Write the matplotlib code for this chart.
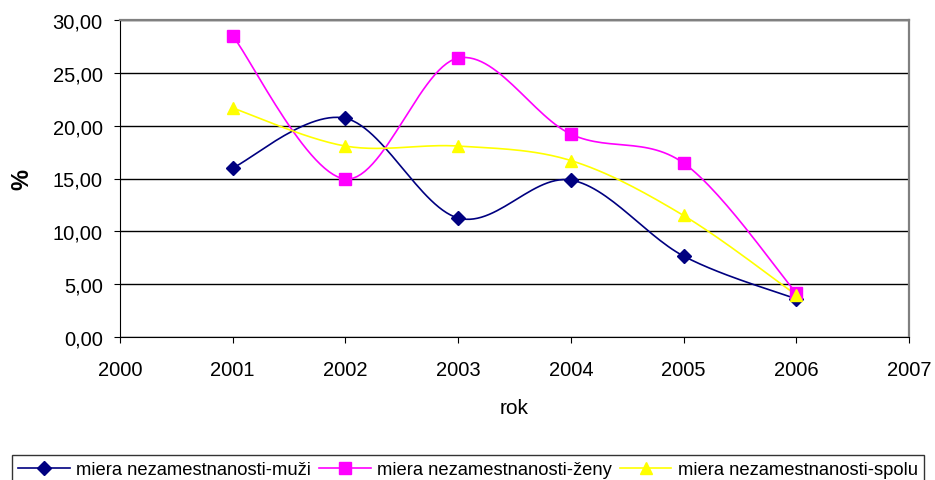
import matplotlib.pyplot as plt
import numpy as np
from matplotlib.ticker import FuncFormatter

plt.rcParams['font.family'] = ['Liberation Sans', 'DejaVu Sans']

years = [2001, 2002, 2003, 2004, 2005, 2006]
muzi = [16.00, 20.70, 11.26, 14.85, 7.66, 3.60]
zeny = [28.50, 14.95, 26.40, 19.20, 16.46, 4.16]
spolu = [21.67, 18.07, 18.07, 16.70, 11.50, 3.97]

labels = ["miera nezamestnanosti-muži", "miera nezamestnanosti-ženy", "miera nezamestnanosti-spolu"]
colors = ["#000080", "#FF00FF", "#FFFF00"]
markers = ["D", "s", "^"]
msizes = [7, 8.5, 9]


def smooth(x, y, n=30):
    # Excel-like smoothed line: cubic bezier through the points
    x = np.asarray(x, float)
    y = np.asarray(y, float)
    px = np.concatenate([[x[0]], x, [x[-1]]])
    py = np.concatenate([[y[0]], y, [y[-1]]])
    xs, ys = [], []
    t = np.linspace(0, 1, n)
    for i in range(1, len(px) - 2):
        p0 = np.array([px[i], py[i]])
        p3 = np.array([px[i + 1], py[i + 1]])
        c1 = p0 + (np.array([px[i + 1], py[i + 1]]) - np.array([px[i - 1], py[i - 1]])) / 6
        c2 = p3 - (np.array([px[i + 2], py[i + 2]]) - np.array([px[i], py[i]])) / 6
        b = ((1 - t) ** 3)[:, None] * p0 + (3 * (1 - t) ** 2 * t)[:, None] * c1 \
            + (3 * (1 - t) * t ** 2)[:, None] * c2 + (t ** 3)[:, None] * p3
        xs.extend(b[:, 0])
        ys.extend(b[:, 1])
    return xs, ys


fig = plt.figure(figsize=(9.35, 4.81), dpi=100)
ax = fig.add_axes([120 / 935, 1 - 338 / 481, 789 / 935, 317 / 481])

for vals, lab, c, m, ms in zip([muzi, zeny, spolu], labels, colors, markers, msizes):
    sx, sy = smooth(years, vals)
    ax.plot(sx, sy, color=c, lw=1.2, zorder=3)
    ax.plot(years, vals, linestyle='none', marker=m, color=c, markersize=ms, zorder=4)
    ax.plot([], [], color=c, lw=1.2, marker=m, markersize=ms, label=lab)

ax.set_xlim(2000, 2007)
ax.set_ylim(0, 30)
ax.set_xticks(range(2000, 2008))
ax.set_yticks(np.arange(0, 31, 5))
ax.yaxis.set_major_formatter(FuncFormatter(lambda v, p: f"{v:.2f}".replace('.', ',')))
ax.grid(axis='y', color='black', lw=1)
ax.set_axisbelow(True)
ax.tick_params(labelsize=14.5, length=4.5, color='black')
ax.tick_params(axis='y', pad=8)
ax.tick_params(axis='x', pad=12)
for s in ['top', 'right']:
    ax.spines[s].set_color('#808080')
    ax.spines[s].set_linewidth(1.6)
for s in ['left', 'bottom']:
    ax.spines[s].set_color('black')

ax.set_xlabel("rok", fontsize=15, labelpad=14)
ax.set_ylabel("%", fontsize=17, fontweight='bold', labelpad=14)

handles, labs = ax.get_legend_handles_labels()
leg = fig.legend(handles, labs, loc='lower left', ncol=3, bbox_to_anchor=(12 / 935, -0.01),
                 frameon=True, fancybox=False, fontsize=13.2, handlelength=2.8,
                 borderaxespad=0, borderpad=0.35, handletextpad=0.35, columnspacing=0.45)
leg.get_frame().set_edgecolor('black')
leg.get_frame().set_linewidth(1)

fig.savefig("out.png", dpi=100)
